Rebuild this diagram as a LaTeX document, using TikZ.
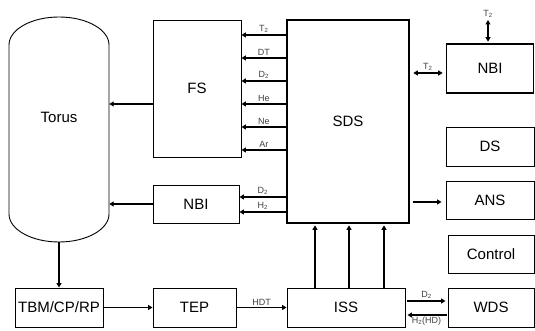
\documentclass[tikz,border=0pt]{standalone}
\usepackage{fontspec}
\setmainfont{Liberation Sans}
\usetikzlibrary{arrows.meta}

\begin{document}
\begin{tikzpicture}[x=1pt, y=1pt,
    box/.style={draw, line width=0.9pt, inner sep=0pt, font=\fontsize{15}{16}\selectfont},
    thickbox/.style={box, line width=1.7pt},
    arr/.style={line width=1.2pt, -{Triangle[length=4.5pt,width=5pt]}},
    darr/.style={line width=1.2pt, {Triangle[length=4.5pt,width=5pt]}-{Triangle[length=4.5pt,width=5pt]}},
    lbl/.style={font=\fontsize{9}{10}\selectfont, inner sep=1.5pt, text=black!75}]
    \useasboundingbox (0,0) rectangle (535,331);
    % torus outline
    \draw[line width=0.9pt] (9,117) -- (9,286) arc[start angle=180, end angle=0, x radius=50, y radius=28]
        -- (109,117) arc[start angle=0, end angle=-180, x radius=50, y radius=28] -- cycle;
    \node (torus) [minimum width=100pt, minimum height=225pt, inner sep=0pt] at (59,201.5) {};
    \node (torustxt) [font=\fontsize{15}{16}\selectfont] at (59,214) {Torus};
    % boxes
    \node (fs) [box, minimum width=88pt, minimum height=137pt] at (197,242.5) {FS};
    \node (nbil) [box, minimum width=86pt, minimum height=38pt] at (196,127) {NBI};
    \node (sds) [thickbox, minimum width=122pt, minimum height=203pt] at (348,209.5) {SDS};
    \node (nbir) [thickbox, minimum width=87pt, minimum height=49pt] at (490,262.5) {NBI};
    \node (ds) [box, minimum width=88pt, minimum height=39pt] at (490,184.5) {DS};
    \node (ans) [box, minimum width=88pt, minimum height=38pt] at (490,131) {ANS};
    \node (ctrl) [box, minimum width=86pt, minimum height=38pt] at (491,77) {Control};
    \node (wds) [box, minimum width=86pt, minimum height=39pt] at (491,23.5) {WDS};
    \node (iss) [box, minimum width=118pt, minimum height=39pt] at (346,23.5) {ISS};
    \node (tbm) [box, minimum width=88pt, minimum height=39pt] at (59,23.5) {TBM/CP/RP};
    \node (tep) [box, minimum width=83pt, minimum height=39pt] at (194.5,23.5) {TEP};
    \coordinate (nbitop) at (488,311);
    % SDS to FS
    \foreach \y/\lab in {296/T\textsubscript{2}, 273/DT, 250/D\textsubscript{2}, 227/He, 204/Ne, 181/Ar}
        \draw[arr] (sds.west |- 0,\y) -- node[above, lbl] {\lab} (fs.east |- 0,\y);
    \draw[arr] (sds.west |- 0,134) -- node[above, lbl] {D\textsubscript{2}} (nbil.east |- 0,134);
    \draw[arr] (sds.west |- 0,119) -- node[above, lbl] {H\textsubscript{2}} (nbil.east |- 0,119);
    % to torus
    \draw[arr] (fs.west |- 0,227) -- (torus.east |- 0,227);
    \draw[arr] (nbil.west) -- (torus.east |- nbil.west);
    \draw[arr] (torus.south) -- (tbm.north);
    % right side
    \draw[darr, shorten <=3.5pt, shorten >=3pt] (sds.east |- 0,258) -- node[above, lbl] {T\textsubscript{2}} (nbir.west |- 0,258);
    \draw[darr, shorten >=1.5pt] (nbitop) node[above, lbl] {T\textsubscript{2}} -- (nbir.north -| nbitop);
    \draw[arr, shorten <=3pt, shorten >=4pt] (sds.east |- 0,129) -- (ans.west |- 0,129);
    % bottom row
    \draw[arr] (tbm.east) -- (tep.west);
    \draw[arr] (tep.east) -- node[above, lbl] {HDT} (iss.west);
    \foreach \x in {315,349,384}
        \draw[arr, shorten >=1.5pt] (iss.north -| \x,0) -- (sds.south -| \x,0);
    \draw[arr, shorten <=2pt, shorten >=2pt] (iss.east |- 0,30) -- node[above, lbl] {D\textsubscript{2}} (wds.west |- 0,30);
    \draw[arr, shorten <=1pt, shorten >=2pt] (wds.west |- 0,16) -- node[below, lbl] {H\textsubscript{2}(HD)} (iss.east |- 0,16);
\end{tikzpicture}
\end{document}
